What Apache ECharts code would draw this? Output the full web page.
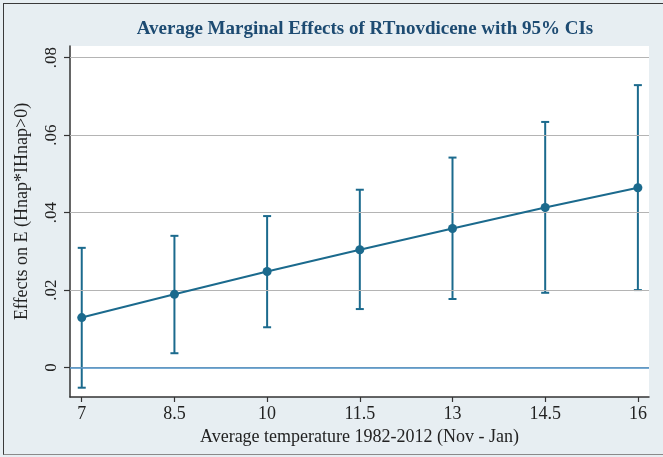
<!DOCTYPE html>
<html>
<head>
<meta charset="utf-8">
<script src="https://cdn.jsdelivr.net/npm/echarts@6/dist/echarts.min.js"></script>
<style>
  html, body { margin: 0; padding: 0; background: #ffffff; overflow: hidden; }
  #wrap { position: relative; width: 663px; height: 457px; overflow: hidden; }
  #main { position: absolute; left: 0; top: 0; width: 663px; height: 457px; }
  #frame { position: absolute; left: 3px; top: 3px; width: 720px; height: 450px;
           border: 1.5px solid #3a3a3a; border-bottom-color: #8a8a8a; pointer-events: none; }
</style>
</head>
<body>
<div id="wrap">
  <div id="main"></div>
  <div id="frame"></div>
</div>
<script>
const titleText = 'Average Marginal Effects of RTnovdicene with 95% CIs';
const xName = 'Average temperature 1982-2012 (Nov - Jan)';
const yName = 'Effects on E (Hnap*IHnap>0)';
const temps = [7, 8.5, 10, 11.5, 13, 14.5, 16];
const effects = [0.0129, 0.0189, 0.0248, 0.0304, 0.0359, 0.0413, 0.0464];
const ciLower = [-0.0052, 0.0037, 0.0104, 0.0151, 0.0177, 0.0193, 0.0200];
const ciUpper = [0.0309, 0.0340, 0.0391, 0.0459, 0.0542, 0.0634, 0.0729];
const yTicks = [0, 0.02, 0.04, 0.06, 0.08];
const yTickLabels = ['0', '.02', '.04', '.06', '.08'];
const xTickLabels = ['7', '8.5', '10', '11.5', '13', '14.5', '16'];

const serif = '"Liberation Serif", "DejaVu Serif", serif';
const lineColor = '#1b6a8d';

const chart = echarts.init(document.getElementById('main'), null, { renderer: 'canvas' });

function yLabel(v) {
  for (let i = 0; i < yTicks.length; i++) {
    if (Math.abs(v - yTicks[i]) < 1e-9) return yTickLabels[i];
  }
  return '';
}
function xLabel(v) {
  for (let i = 0; i < temps.length; i++) {
    if (Math.abs(v - temps[i]) < 1e-9) return xTickLabels[i];
  }
  return '';
}

const option = {
  backgroundColor: '#e7eef2',
  animation: false,
  title: {
    text: titleText,
    left: 360,
    textAlign: 'center',
    top: 15,
    textStyle: { fontFamily: serif, fontWeight: 'bold', fontSize: 19, color: '#1d4b72' }
  },
  grid: {
    left: 70, right: 14, top: 46, bottom: 60,
    show: true, backgroundColor: '#ffffff', borderWidth: 0
  },
  xAxis: {
    type: 'value',
    min: 6.81, max: 16.18,
    name: xName,
    nameLocation: 'middle',
    nameGap: 31,
    nameTextStyle: { fontFamily: serif, fontSize: 18, color: '#222' },
    axisLine: { show: true, onZero: false, lineStyle: { color: '#333', width: 1.5 } },
    axisTick: { show: true, length: 5, customValues: temps, lineStyle: { color: '#333', width: 1.2 } },
    axisLabel: { customValues: temps, formatter: xLabel, margin: 8,
                 fontFamily: serif, fontSize: 18, color: '#222' },
    splitLine: { show: false }
  },
  yAxis: {
    type: 'value',
    min: -0.0076, max: 0.083,
    name: yName,
    nameLocation: 'middle',
    nameGap: 39,
    nameTextStyle: { fontFamily: serif, fontSize: 18, color: '#222', padding: [0, 0, 0, 20] },
    axisLine: { show: true, onZero: false, lineStyle: { color: '#333', width: 1.5 } },
    axisTick: { show: true, length: 6, customValues: yTicks, lineStyle: { color: '#333', width: 1.2 } },
    axisLabel: { customValues: yTicks, formatter: yLabel, rotate: 90, margin: 10,
                 fontFamily: serif, fontSize: 17, color: '#222' },
    splitLine: { show: false }
  },
  series: [
    {
      type: 'line',
      data: [],
      z: 1,
      silent: true,
      markLine: {
        silent: true,
        symbol: 'none',
        label: { show: false },
        lineStyle: { color: '#b4b4b4', width: 1.2, type: 'solid' },
        data: yTicks.map(v => ({ yAxis: v }))
      }
    },
    {
      type: 'line',
      data: temps.map((t, i) => [t, effects[i]]),
      symbol: 'circle',
      symbolSize: 9,
      itemStyle: { color: lineColor },
      lineStyle: { color: lineColor, width: 2 },
      z: 5,
      markLine: {
        silent: true,
        symbol: 'none',
        label: { show: false },
        lineStyle: { color: '#4a8fc6', width: 1.5, type: 'solid' },
        data: [{ yAxis: 0 }]
      }
    },
    {
      type: 'custom',
      data: temps.map((t, i) => [t, ciLower[i], ciUpper[i]]),
      z: 4,
      renderItem: function (params, api) {
        const x = api.value(0);
        const lo = api.coord([x, api.value(1)]);
        const hi = api.coord([x, api.value(2)]);
        const cap = 4;
        const style = { stroke: lineColor, lineWidth: 2 };
        return {
          type: 'group',
          children: [
            { type: 'line', shape: { x1: lo[0], y1: lo[1], x2: hi[0], y2: hi[1] }, style: style },
            { type: 'line', shape: { x1: lo[0] - cap, y1: lo[1], x2: lo[0] + cap, y2: lo[1] }, style: style },
            { type: 'line', shape: { x1: hi[0] - cap, y1: hi[1], x2: hi[0] + cap, y2: hi[1] }, style: style }
          ]
        };
      }
    }
  ]
};
chart.setOption(option);
</script>
</body>
</html>
